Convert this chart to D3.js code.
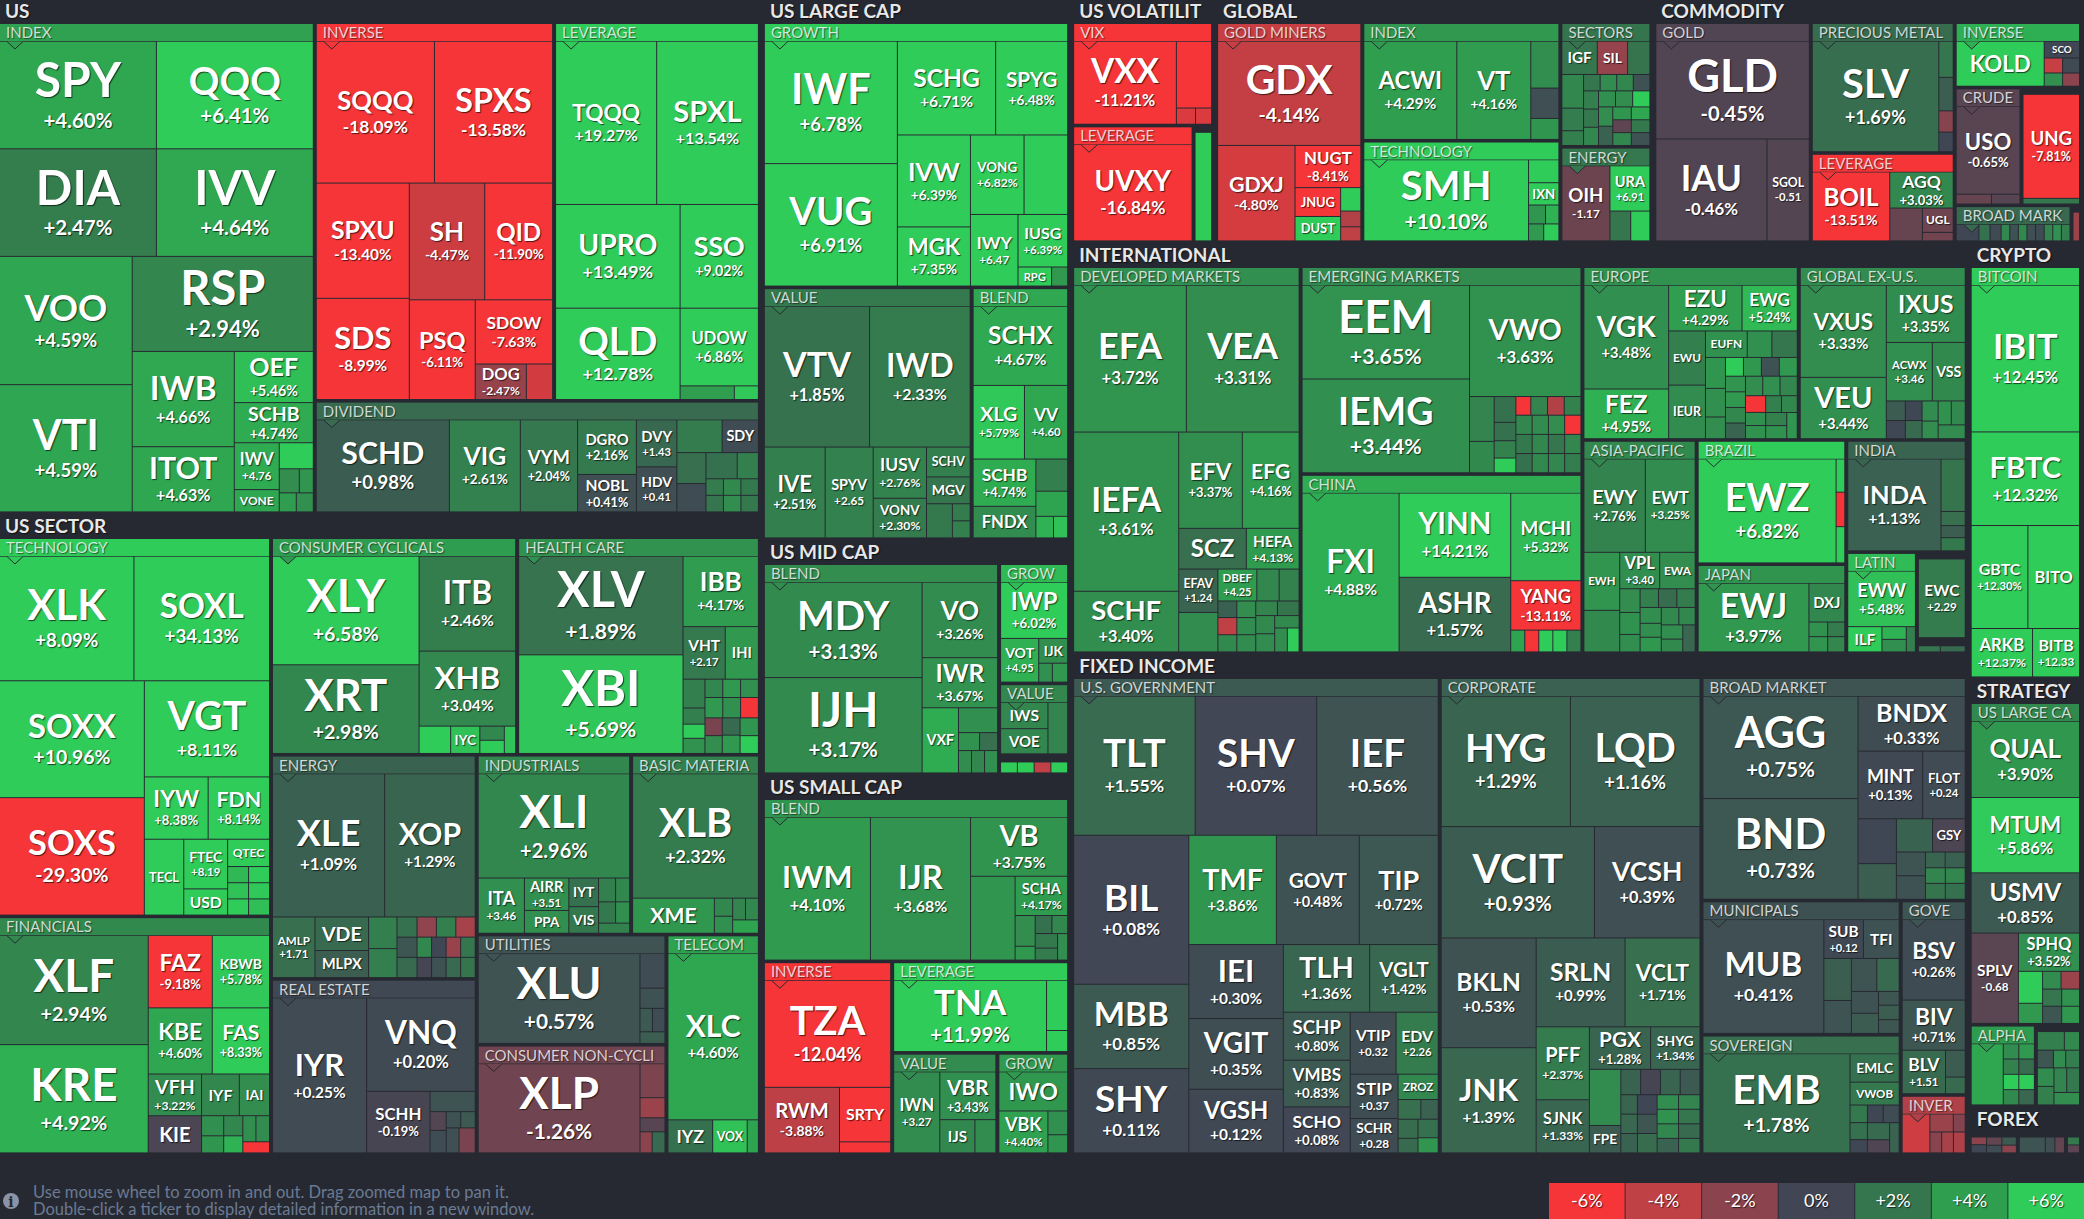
<!DOCTYPE html>
<html>
<head>
<meta charset="utf-8">
<title>ETF map</title>
<script src="https://cdn.jsdelivr.net/npm/d3@7"></script>
<style>
  html, body { margin: 0; padding: 0; background: #262931; }
  svg { display: block; font-family: Lato, sans-serif; }
  text { text-shadow: 1px 1px 1px rgba(0,0,0,.65); }
  .foot { text-shadow: none; }
</style>
</head>
<body>
<svg id="map" width="2084" height="1219"></svg>
<script>
// Cells: [ticker, size, change]. A string change is printed in the cell, a number only sets the colour.

// US ------------------------------------------------------------
const usIndex = [["SPY",16820,"+4.60%"],["QQQ",16820,"+6.41%"],["DIA",16820,"+2.47%"],["IVV",16820,"+4.64%"],["VOO",16960,"+4.59%"],["VTI",16830,"+4.59%"],["RSP",17150,"+2.94%"],["IWB",9690,"+4.66%"],["ITOT",6630,"+4.63%"],["OEF",4030,"+5.46%"],["SCHB",3160,"+4.74%"],["IWV",2100,"+4.76"],["VONE",1000,4.6],["",884,6.4],["",480,3.3],["",336,3.8],["",323,4.2],["",323,3.5]];
const usInverse = [["SQQQ",16640,"-18.09%"],["SPXS",16640,"-13.58%"],["SPXU",10640,"-13.40%"],["SDS",9340,"-8.99%"],["SH",8740,"-4.47%"],["QID",7860,"-11.90%"],["PSQ",6525,"-6.11%"],["SDOW",4930,"-7.63%"],["DOG",1800,"-2.47%"],["",925,-4.7]];
const usLeverage = [["TQQQ",16400,"+19.27%"],["SPXL",16500,"+13.54%"],["UPRO",12830,"+13.49%"],["QLD",11300,"+12.78%"],["SSO",8070,"+9.02%"],["UDOW",6045,"+6.86%"],["",734,4.3],["",326,5.8]];
const usDividend = [["SCHD",12060,"+0.98%"],["VIG",6425,"+2.61%"],["VYM",5190,"+2.04%"],["DGRO",3160,"+2.16%"],["NOBL",2165,"+0.41%"],["DVY",1875,"+1.43"],["HDV",1795,"+0.41"],["",1460,2.3],["SDY",1170,0.3],["",885,1.7],["",810,0.3],["",805,1.8],["",545,2.6],["",285,2.3],["",285,2.0],["",285,3.1],["",285,3.4],["",285,2.2],["",285,2.1]];

// US SECTOR -----------------------------------------------------
const secTech = [["XLK",16600,"+8.09%"],["SOXL",16740,"+34.13%"],["SOXX",16780,"+10.96%"],["SOXS",16860,"-29.30%"],["VGT",11930,"+8.11%"],["IYW",3940,"+8.38%"],["FDN",3790,"+8.14%"],["TECL",2965,16],["FTEC",2160,"+8.19"],["USD",1140,16],["QTEC",1134,7.5],["",336,5.2],["",336,6],["",336,5.5],["",336,6.2],["",336,5.8],["",336,5.4]];
const secFinancials = [["XLF",16060,"+2.94%"],["KRE",15920,"+4.92%"],["FAZ",4590,"-9.18%"],["KBWB",4100,"+5.78%"],["KBE",4185,"+4.60%"],["FAS",3745,"+8.33%"],["VFH",2200,"+3.22%"],["KIE",1960,-0.3],["IYF",1556,3],["IAI",1245,3.3],["",440,3.5],["",374,3.8],["",380,3],["",323,5],["",338,3.4],["",350,3.2],["",294,-9]];
const secCyclicals = [["XLY",15770,"+6.58%"],["XRT",12880,"+2.98%"],["ITB",9080,"+2.46%"],["XHB",7180,"+3.04%"],["",855,6.4],["IYC",790,5.5],["",343,3],["",320,6.2],["",307,5.6]];
const secHealth = [["XLV",16100,"+1.89%"],["XBI",16100,"+5.69%"],["IBB",5270,"+4.17%"],["VHT",2205,"+2.17"],["IHI",1730,4],["",627,2.5],["",352,2.6],["",308,6],["",330,3.6],["",324,3],["",324,4],["",324,3.5],["",360,4],["",360,3.5],["",360,-9],["",306,-1.5],["",306,3.3],["",306,1.5],["",324,4],["",324,3.8],["",324,6]];
const secEnergy = [["XLE",15830,"+1.09%"],["XOP",12780,"+1.29%"],["AMLP",2540,"+1.71"],["VDE",1775,1.5],["MLPX",1430,1],["",885,2.5],["",810,2.6],["",400,1.8],["",400,0.7],["",400,1.5],["",386,-2.2],["",386,2.6],["",386,-3],["",290,3],["",290,-0.1],["",290,0.1],["",290,0.5],["",290,-2.5],["",290,2],["",290,1.5],["",290,1.9]];
const secRealEstate = [["IYR",14480,"+0.25%"],["VNQ",10070,"+0.20%"],["SCHH",3875,"-0.19%"],["",910,0.6],["",300,-0.5],["",360,0.3],["",234,0.5],["",234,0.8],["",320,0.4],["",400,-1.5]];
const secIndustrials = [["XLI",15570,"+2.96%"],["ITA",2516,"+3.46"],["AIRR",1420,"+3.51"],["PPA",1000,3.5],["IYT",840,1.8],["VIS",780,2.2],["",400,2.5],["",329,3],["",357,2.2],["",294,3.5],["",310,2.7]];
const secMaterials = [["XLB",15375,"+2.32%"],["XME",2820,3.9],["",324,3],["",306,3.5],["",275,2.8],["",275,3],["",338,4.5]];
const secUtilities = [["XLU",14410,"+0.57%"],["",857,0.3],["",500,0.5],["",290,0.8],["",290,0.3],["",288,1]];
const secStaples = [["XLP",14050,"-1.26%"],["",825,-1.6],["",487,-2.6],["",340,-0.6],["",250,-2],["",262,1.5]];
const secTelecom = [["XLC",14770,"+4.60%"],["IYZ",1452,1.8],["VOX",1122,5.5],["",363,4.5]];

// US LARGE / MID / SMALL CAP ------------------------------------
const largeGrowth = [["IWF",16160,"+6.78%"],["VUG",16160,"+6.91%"],["SCHG",9150,"+6.71%"],["SPYG",6700,"+6.48%"],["IVW",6670,"+6.39%"],["MGK",4290,"+7.35%"],["VONG",4230,"+6.82%"],["",3440,6.6],["IWY",3380,"+6.47"],["IUSG",2590,"+6.39%"],["RPG",635,6.5],["",304,4]];
const largeValue = [["VTV",14640,"+1.85%"],["IWD",14000,"+2.33%"],["IVE",5460,"+2.51%"],["SPYV",4320,"+2.65"],["IUSV",2700,"+2.76%"],["VONV",2090,"+2.30%"],["SCHV",1290,2.6],["MGV",1160,2],["",874,2.2],["",300,2.3],["",300,2.5]];
const largeBlend = [["SCHX",7350,"+4.67%"],["XLG",3716,"+5.79%"],["VV",3130,"+4.60"],["SCHB",2917,"+4.74%"],["FNDX",1950,3.2],["",1005,2.6],["",785,4.5],["",374,5],["",300,5.5]];
const midBlend = [["MDY",14860,"+3.13%"],["IJH",14860,"+3.17%"],["VO",5630,"+3.26%"],["IWR",3735,"+3.67%"],["VXF",2340,4.8],["",960,3.5],["",374,3.6],["",320,1.7],["",288,3.2],["",288,3],["",288,3.5]];
const midGrow = [["IWP",3656,"+6.02%"],["VOT",1617,"+4.95"],["IJK",696,3.4],["",250,3.5],["",280,4]];
const midValue = [["IWS",1190,2.9],["VOE",1140,3],["",970,2.8]];
const midOther = [["",176,6.2],["",176,6.2],["",176,-4],["",176,6.2]];
const smallBlend = [["IWM",14930,"+4.10%"],["IJR",14100,"+3.68%"],["VB",5650,"+3.75%"],["",3680,3.8],["SCHA",2033,"+4.17%"],["",610,3.3],["",274,3.9],["",297,1.8],["",280,3],["",320,2.2],["",264,2.3],["",264,3.3]];
const smallInverse = [["TZA",13280,"-12.04%"],["RWM",4840,"-3.88%"],["SRTY",2743,-7],["",557,-8]];
const smallLeverage = [["TNA",10640,"+11.99%"],["",1035,8],["",435,7]];
const smallValue = [["IWN",3666,"+3.27"],["VBR",2626,"+3.43%"],["IJS",1145,3],["",683,3.2]];
const smallGrow = [["IWO",2627,3.9],["VBK",2010,"+4.40%"],["",458,3.5],["",350,3.8]];

// US VOLATILITY / GLOBAL / COMMODITY ----------------------------
const volVix = [["VXX",8364,"-11.21%"],["",2310,-9],["",304,-5],["",256,-5]];
const volLeverage = [["UVXY",11230,"-16.84%"]];
const volOther = [["",1660,7]];
const globalMiners = [["GDX",14725,"-4.14%"],["GDXJ",7290,"-4.80%"],["NUGT",2740,"-8.41%"],["JNUG",1300,-8],["DUST",1100,7],["",466,7],["",314,-3.5],["",280,-4]];
const globalIndex = [["ACWI",8990,"+4.29%"],["VT",7150,"+4.16%"],["",1296,3.4],["",840,0.4],["",580,3.8]];
const globalTech = [["SMH",13235,"+10.10%"],["",690,6.5],["IXN",669,8],["",318,3.8],["",250,5],["",255,4],["",255,6]];
const globalSectors = [["IGF",1155,2],["SIL",990,-2.4],["",726,1.9],["",716,3],["",480,2.4],["",314,2.6],["",267,2],["",267,3.2],["",267,3],["",267,0.5],["",267,2.6],["",267,2.1],["",267,3],["",267,3.5],["",270,3.3],["",270,6],["",270,3.3],["",270,1.2],["",234,3.8],["",234,4.6],["",234,-0.8],["",234,3],["",234,2.2],["",234,0.5]];
const globalEnergy = [["OIH",3530,"-1.17"],["URA",1766,"+6.91"],["",606,2],["",558,7]];
const comGold = [["GLD",14830,"-0.45%"],["IAU",11190,"-0.46%"],["SGOL",4260,"-0.51"]];
const comPrecious = [["SLV",13700,"+1.69%"],["",510,2],["",472,1],["",300,-1.9],["",276,0.1]];
const comLeverage = [["BOIL",5236,"-13.51%"],["AGQ",2243,"+3.03%"],["",1050,-1],["UGL",734,-1.2],["",257,-1.3]];
const comInverse = [["KOLD",3907,7],["SCO",585,0.1],["",272,-4.2],["",240,3.5],["",250,0.2],["",220,-2]];
const comCrude = [["USO",5504,"-0.65%"],["",340,-1],["",275,-0.6]];
const comGas = [["UNG",5580,"-7.81%"],["",306,2]];
const comBroad = [["",358,0.1],["",176,1.8],["",176,0.2],["",136,3],["",136,0.5],["",136,3],["",136,0.4],["",136,0.3],["",136,2.8],["",136,3.5],["",136,2.6]];
const comOther = [["",144,-2.6]];

// INTERNATIONAL -------------------------------------------------
const intlDeveloped = [["EFA",16450,"+3.72%"],["VEA",16450,"+3.31%"],["IEFA",16620,"+3.61%"],["SCHF",6330,"+3.40%"],["EFV",6086,"+3.37%"],["EFG",5434,"+4.16%"],["SCZ",2736,1.7],["HEFA",2135,"+4.13%"],["EFAV",1690,"+1.24"],["",1536,3.2],["DBEF",1236,"+4.25"],["",707,3],["",634,2.7],["",312,1.1],["",323,-4],["",323,3.1],["",312,3.3],["",323,3.2],["",323,3.2],["",315,2.8],["",315,1.9],["",342,3.1],["",342,3.2],["",300,3.1],["",300,3.3],["",280,6.5]];
const intlEmerging = [["EEM",15600,"+3.65%"],["IEMG",15600,"+3.44%"],["VWO",12320,"+3.63%"],["",1100,2.8],["",768,3.1],["",557,1.8],["",396,1.8],["",373,2.7],["",317,7],["",277,-9],["",310,2.8],["",310,-3.5],["",310,2.7],["",310,2.9],["",310,2.2],["",310,1.8],["",310,3.2],["",310,3.3],["",310,-9],["",310,3],["",310,3.1],["",310,2],["",310,2.9],["",310,3],["",310,2.4]];
const intlChina = [["FXI",15320,"+4.88%"],["YINN",9350,"+14.21%"],["ASHR",8280,"+1.57%"],["MCHI",6118,"+5.32%"],["YANG",3450,"-13.11%"],["",304,4.5],["",304,-9],["",304,6],["",304,6.5],["",304,2.5]];
const intlEurope = [["VGK",8615,"+3.48%"],["FEZ",4120,"+4.95%"],["EZU",3290,"+4.29%"],["EWG",2476,"+5.24%"],["EWU",1955,2.5],["IEUR",1933,3.2],["EUFN",1083,3.6],["",640,3.5],["",658,2],["",606,3.8],["",560,3.5],["",425,3.3],["",330,6.5],["",330,3.9],["",330,0.5],["",330,4],["",306,3.7],["",306,4],["",306,3],["",306,1.3],["",330,3.3],["",330,3.5],["",330,2.9],["",330,-9],["",260,3.5],["",260,3.6],["",260,2.5],["",260,3],["",270,2.7],["",270,3.6],["",270,3.8]];
const intlExUs = [["VXUS",7850,"+3.33%"],["VEU",5220,"+3.44%"],["IXUS",4470,"+3.35%"],["ACWX",2664,"+3.46"],["VSS",1906,3.1],["",369,0.9],["",342,0.1],["",324,0.1],["",300,1.5],["",320,3.2],["",280,3.3],["",312,3.6],["",330,3.1],["",370,3.2]];
const intlAsia = [["EWY",5627,"+2.76%"],["EWT",4570,"+3.25%"],["EWH",2040,3.7],["",1460,3.1],["VPL",1429,"+3.40"],["EWA",1270,3.3],["",473,3.3],["",440,3.6],["",349,3.4],["",337,2.5],["",337,1.6],["",337,2.3],["",330,3.4],["",290,3.4],["",305,3.9],["",300,3.1],["",280,3],["",300,3.4],["",270,3.1],["",330,1.4]];
const intlBrazil = [["EWZ",14150,"+6.82%"],["",284,6.5],["",295,-9],["",310,6.5]];
const intlJapan = [["EWJ",7450,"+3.97%"],["DXJ",1363,3],["",268,3.6],["",279,3.7],["",245,2.3],["",255,2.9]];
const intlIndia = [["INDA",8408,"+1.13%"],["",1248,1.9],["",336,1.7],["",288,1],["",312,2.2]];
const intlLatin = [["EWW",3668,"+5.48%"],["ILF",843,6],["",302,5],["",298,3.5],["",225,2.5]];
const intlCanada = [["EWC",3551,"+2.29"]];
const intlOther = [["",105,2],["",120,1.5]];

// FIXED INCOME --------------------------------------------------
const fixedGov = [["TLT",16840,"+1.55%"],["SHV",16840,"+0.07%"],["IEF",16840,"+0.56%"],["BIL",17105,"+0.08%"],["MBB",9680,"+0.85%"],["SHY",9680,"+0.11%"],["TMF",9530,"+3.86%"],["GOVT",9030,"+0.48%"],["TIP",8600,"+0.72%"],["IEI",6970,"+0.30%"],["VGIT",6660,"+0.35%"],["VGSH",6000,"+0.12%"],["TLH",5822,"+1.36%"],["VGLT",4624,"+1.42%"],["SCHP",3197,"+0.80%"],["VMBS",3110,"+0.83%"],["SCHO",3064,"+0.08%"],["VTIP",2833,"+0.32"],["EDV",2604,"+2.26"],["STIP",2113,"+0.37"],["SCHR",1640,"+0.28"],["ZROZ",1012,3],["",447,1.7],["",341,1.2],["",379,1.6],["",289,1.5],["",374,1.8],["",306,3.8]];
const fixedCorp = [["HYG",16760,"+1.29%"],["LQD",16810,"+1.16%"],["VCIT",16985,"+0.93%"],["VCSH",11690,"+0.39%"],["BKLN",10370,"+0.53%"],["JNK",9940,"+1.39%"],["SRLN",7860,"+0.99%"],["VCLT",6626,"+1.71%"],["PFF",3863,"+2.37%"],["SJNK",2814,"+1.33%"],["PGX",2590,"+1.28%"],["SHYG",2090,"+1.34%"],["",1758,3.2],["FPE",859,0.9],["",500,1.2],["",500,-0.1],["",500,1.3],["",500,0.8],["",320,1.3],["",320,1.4],["",320,1.2],["",380,0.1],["",380,0.7],["",380,1.6],["",310,3.4],["",310,2.8],["",310,3.6],["",310,2],["",310,3],["",310,1.2],["",310,1.5],["",310,2.2]];
const fixedBroad = [["AGG",15780,"+0.75%"],["BND",15516,"+0.73%"],["BNDX",5850,"+0.33%"],["MINT",4350,"+0.13%"],["FLOT",2857,"+0.24"],["",1710,0.1],["",1357,1],["",1198,1.2],["GSY",1079,-0.3],["",686,0.6],["",678,0.5],["",308,1.3],["",314,1.1],["",308,2.8],["",314,1.9],["",308,2.9],["",314,1.8]];
const fixedMuni = [["MUB",13594,"+0.41%"],["SUB",1520,"+0.12"],["TFI",1375,0.5],["",1143,1],["",896,0.6],["",827,0.6],["",729,1.5],["",586,0.5],["",540,0.9],["",282,0.7],["",295,1],["",282,0.7]];
const fixedSovereign = [["EMB",14340,"+1.78%"],["EMLC",1372,1.8],["VWOB",1107,2.2],["",300,2.2],["",290,1.8],["",227,0.1],["",275,0.1],["",277,0.3],["",372,1.5],["",288,-0.4],["",285,1.2]];
const fixedGove = [["BSV",4979,"+0.26%"],["BIV",3100,"+0.71%"],["BLV",1845,"+1.51"],["",518,0.9],["",322,1.5]];
const fixedInverse = [["",1037,-4.5],["",405,-2.6],["",206,-1.8],["",237,-1.9],["",237,-3.1],["",237,-3.3]];

// CRYPTO / STRATEGY / FOREX -------------------------------------
const cryptoBitcoin = [["IBIT",15700,"+12.45%"],["FBTC",10015,"+12.32%"],["GBTC",5768,"+12.30%"],["BITO",5253,12.3],["ARKB",2933,"+12.37%"],["BITB",2246,"+12.33"]];
const stratLarge = [["QUAL",8130,"+3.90%"],["MTUM",8025,"+5.86%"],["USMV",6420,"+0.85%"],["SPLV",4200,"-0.68"],["SPHQ",2300,"+3.52%"],["",760,7],["",480,4],["",322,3.2],["",323,-2.6],["",322,2],["",323,0.7],["",301,3.6],["",302,3.9]];
const stratAlpha = [["",1787,4.6],["",217,3.2],["",217,4],["",217,2.7],["",217,1.6],["",217,6],["",217,3.1],["",217,7],["",217,1.4]];
const stratOther = [["",481,2.5],["",270,3.1],["",273,0.7],["",208,3.2],["",234,2.4],["",294,3.2],["",294,2.6],["",301,2.8],["",301,2.2],["",305,3.3]];
const forexA = [["",112,-2],["",120,0.1],["",120,-0.9],["",112,0.3],["",112,0.8],["",107,-2]];
const forexB = [["",411,0.6],["",152,0.4],["",152,-0.9]];
const forexC = [["",91,2.2],["",91,-0.7]];

// Group and sector tables: the name as printed, its area in the picture, its cells.
const usGroups = [{name:"INDEX",size:155647,cells:usIndex},{name:"INVERSE",size:90650,cells:usInverse},{name:"LEVERAGE",size:77970,cells:usLeverage},{name:"DIVIDEND",size:50060,cells:usDividend}];
const sectorGroups = [{name:"TECHNOLOGY",size:103600,cells:secTech},{name:"FINANCIALS",size:64970,cells:secFinancials},{name:"CONSUMER CYCLICALS",size:53590,cells:secCyclicals},{name:"HEALTH CARE",size:52850,cells:secHealth},{name:"ENERGY",size:46130,cells:secEnergy},{name:"REAL ESTATE",size:36090,cells:secRealEstate},{name:"INDUSTRIALS",size:27780,cells:secIndustrials},{name:"BASIC MATERIA",size:23170,cells:secMaterials},{name:"UTILITIES",size:20920,cells:secUtilities},{name:"CONSUMER NON-CYCLI",size:20790,cells:secStaples},{name:"TELECOM",size:20540,cells:secTelecom}];
const largeGroups = [{name:"GROWTH",size:81090,cells:largeGrowth},{name:"VALUE",size:52500,cells:largeValue},{name:"BLEND",size:24520,cells:largeBlend}];
const midGroups = [{name:"BLEND",size:49630,cells:midBlend},{name:"GROW",size:8386,cells:midGrow},{name:"VALUE",size:5005,cells:midValue},{name:"",size:1330,cells:midOther}];
const smallGroups = [{name:"BLEND",size:49725,cells:smallBlend},{name:"INVERSE",size:24800,cells:smallInverse},{name:"LEVERAGE",size:16107,cells:smallLeverage},{name:"VALUE",size:10605,cells:smallValue},{name:"GROW",size:7240,cells:smallGrow}];
const volGroups = [{name:"VIX",size:14523,cells:volVix},{name:"LEVERAGE",size:14120,cells:volLeverage},{name:"",size:2276,cells:volOther}];
const globalGroups = [{name:"GOLD MINERS",size:32120,cells:globalMiners},{name:"INDEX",size:23450,cells:globalIndex},{name:"TECHNOLOGY",size:20070,cells:globalTech},{name:"SECTORS",size:11320,cells:globalSectors},{name:"ENERGY",size:8670,cells:globalEnergy}];
const commodityGroups = [{name:"GOLD",size:34360,cells:comGold},{name:"PRECIOUS METAL",size:18790,cells:comPrecious},{name:"LEVERAGE",size:12820,cells:comLeverage},{name:"INVERSE",size:8235,cells:comInverse},{name:"CRUDE",size:7856,cells:comCrude},{name:"",size:7000,cells:comGas},{name:"BROAD MARK",size:4300,cells:comBroad},{name:"",size:350,cells:comOther}];
const intlGroups = [{name:"DEVELOPED MARKETS",size:88400,cells:intlDeveloped},{name:"EMERGING MARKETS",size:58570,cells:intlEmerging},{name:"CHINA",size:50480,cells:intlChina},{name:"EUROPE",size:37590,cells:intlEurope},{name:"GLOBAL EX-U.S.",size:29180,cells:intlExUs},{name:"ASIA-PACIFIC",size:24360,cells:intlAsia},{name:"BRAZIL",size:18580,cells:intlBrazil},{name:"JAPAN",size:13310,cells:intlJapan},{name:"INDIA",size:13510,cells:intlIndia},{name:"LATIN",size:7140,cells:intlLatin},{name:"",size:4324,cells:intlCanada},{name:"",size:710,cells:intlOther}];
const fixedGroups = [{name:"U.S. GOVERNMENT",size:175500,cells:fixedGov},{name:"CORPORATE",size:124970,cells:fixedCorp},{name:"BROAD MARKET",size:59300,cells:fixedBroad},{name:"MUNICIPALS",size:26760,cells:fixedMuni},{name:"SOVEREIGN",size:23825,cells:fixedSovereign},{name:"GOVE",size:12850,cells:fixedGove},{name:"INVER",size:3914,cells:fixedInverse}];
const cryptoGroups = [{name:"BITCOIN",size:49835,cells:cryptoBitcoin}];
const strategyGroups = [{name:"US LARGE CA",size:35742,cells:stratLarge},{name:"ALPHA",size:5366,cells:stratAlpha},{name:"",size:3660,cells:stratOther}];
const forexGroups = [{name:"",size:1152,cells:forexA},{name:"",size:1152,cells:forexB},{name:"",size:360,cells:forexC}];

const sectors = [
  {name:"US",size:393975,groups:usGroups},
  {name:"US SECTOR",size:490365,groups:sectorGroups},
  {name:"US LARGE CAP",size:167330,groups:largeGroups},
  {name:"US MID CAP",size:72690,groups:midGroups},
  {name:"US SMALL CAP",size:117530,groups:smallGroups},
  {name:"US VOLATILIT",size:35136,groups:volGroups},
  {name:"GLOBAL",size:106945,groups:globalGroups},
  {name:"COMMODITY",size:104850,groups:commodityGroups},
  {name:"INTERNATIONAL",size:368950,groups:intlGroups},
  {name:"FIXED INCOME",size:449750,groups:fixedGroups},
  {name:"CRYPTO",size:49835,groups:cryptoGroups},
  {name:"STRATEGY",size:48920,groups:strategyGroups},
  {name:"FOREX",size:5486,groups:forexGroups}
];

// Legend
const legendValues = [-6,-4,-2,0,2,4,6];
const legendLabels = ["-6%","-4%","-2%","0%","+2%","+4%","+6%"];
const legendColors = ["#f63538","#bf4045","#8b444e","#414554","#35764e","#2f9e4f","#30cc5a"];
const footLines = ["Use mouse wheel to zoom in and out. Drag zoomed map to pan it.","Double-click a ticker to display detailed information in a new window."];

const BG = "#262931";
// cells read a little darker than the legend stops on the green side
const color = d3.scaleLinear().domain([-6,-4,-2,0,2,4.3,5.9]).range(legendColors).clamp(true);
const changeOf = c => typeof c[2] === "string" ? parseFloat(c[2]) : c[2];

const svg = d3.select("#map");

// Hierarchy, sizes of sectors and groups come from their own area, not the sum of the leaves
const root = d3.hierarchy({groups: sectors}, d => d.groups || d.cells);
root.sum(d => Array.isArray(d) ? d[1] : 0);

const squarify = d3.treemapSquarify.ratio(1);
function tile(node, x0, y0, x1, y1) {
  if (node.height > 1) node.children.forEach(c => { c.value = c.data.size; });
  node.value = d3.sum(node.children, c => c.value);
  squarify(node, x0, y0, x1, y1);
}

d3.treemap()
  .size([2086, 1156])
  .tile(tile)
  .paddingTop(n => n.depth === 1 ? 24 : n.depth === 2 ? (n.data.name ? 17.7 : 5.5) : 0)
  .paddingRight(n => n.depth === 1 || n.depth === 2 ? 3 : 0)
  .paddingBottom(n => n.depth === 2 ? 2.6 : 0)(root);

const groups = root.descendants().filter(n => n.depth === 2);
const leaves = root.leaves();

// Mean change of a group gives the header colour
const groupColor = g => color(d3.sum(g.children, c => c.data[1] * changeOf(c.data)) / d3.sum(g.children, c => c.data[1]));

// Cells
const cell = svg.append("g").selectAll("g").data(leaves).join("g")
  .attr("transform", d => `translate(${d.x0},${d.y0})`);

cell.append("rect")
  .attr("width", d => Math.max(0, d.x1 - d.x0 - 1))
  .attr("height", d => Math.max(0, d.y1 - d.y0 - 1))
  .attr("fill", d => color(changeOf(d.data)));

// Text fitting
const ctx = document.createElement("canvas").getContext("2d");
ctx.font = "700 100px Lato";
const em = s => ctx.measureText(s).width / 100;
const clamp = (v, a, b) => Math.max(a, Math.min(b, v));

cell.filter(d => d.data[0]).each(function (d) {
  const w = d.x1 - d.x0 - 1, h = d.y1 - d.y0 - 1;
  const name = d.data[0], perf = typeof d.data[2] === "string" ? d.data[2] : null;
  let f1 = Math.min(w * clamp(0.84 - 0.0016 * w, 0.48, 0.84) / em(name), h * (perf ? 0.5 : 0.62), 6 + 0.27 * w, 52);
  let f2 = perf ? Math.min(w * 0.8 / em(perf), 8 + 0.08 * w, 22) : 0;
  // ticker and change sit on clear lines: descent of the first plus ascent of the second
  let gap = perf ? 0.213 * f1 + 0.267 * f2 : 0;
  let total = 0.72 * f1 + gap + 0.72 * f2;
  if (total > h * 0.92) {
    const k = h * 0.92 / total;
    f1 *= k; f2 *= k; gap *= k; total *= k;
  }
  const base = h / 2 - total / 2 + 0.72 * f1;
  const label = d3.select(this).append("text")
    .attr("text-anchor", "middle").attr("fill", "#fff")
    .style("font-weight", 700);
  label.append("tspan")
    .attr("x", w / 2).attr("y", base)
    .style("font-size", f1 + "px")
    .text(name);
  if (perf) {
    label.append("tspan")
      .attr("x", w / 2).attr("y", base + gap + 0.72 * f2)
      .style("font-size", f2 + "px")
      .text(perf);
  }
});

// Group headers with the small notch
const named = groups.filter(g => g.data.name);
const header = svg.append("g").selectAll("g").data(named).join("g")
  .attr("transform", d => `translate(${d.x0},${d.y0})`);

header.append("rect")
  .attr("width", d => d.x1 - d.x0 - 4)
  .attr("height", 17)
  .attr("fill", groupColor);

header.append("path")
  .attr("d", "M7,17.5L15,25L23,17.5")
  .attr("fill", groupColor)
  .attr("stroke", BG)
  .attr("stroke-width", 1);

header.append("text")
  .attr("x", 6).attr("y", 14)
  .attr("fill", "#fff").attr("fill-opacity", 0.78)
  .style("font-size", "15px")
  .text(d => d.data.name);

// Sector titles
svg.append("g").selectAll("text").data(root.children).join("text")
  .attr("x", d => d.x0 + 5)
  .attr("y", d => d.y0 + 18)
  .attr("fill", "#e8e8e8")
  .style("font-size", "19px")
  .style("font-weight", 700)
  .text(d => d.data.name);

// Legend
const legendX = d3.scaleBand().domain(legendLabels).range([1549, 2084]).paddingInner(0.012);
const legendFill = d3.scaleOrdinal().domain(legendLabels).range(legendColors);
const legend = svg.append("g").selectAll("g").data(legendLabels).join("g")
  .attr("transform", d => `translate(${legendX(d)},1183)`);
legend.append("rect")
  .attr("width", legendX.bandwidth()).attr("height", 36)
  .attr("fill", d => legendFill(d));
legend.append("text")
  .attr("x", legendX.bandwidth() / 2).attr("y", 24)
  .attr("text-anchor", "middle").attr("fill", "#fff")
  .style("font-size", "18px")
  .text(d => d);

// Footer hint
const foot = svg.append("g").attr("class", "foot");
foot.append("circle").attr("cx", 11).attr("cy", 1201).attr("r", 8).attr("fill", "#8b93a7");
foot.append("text").attr("class", "foot").attr("x", 11).attr("y", 1206.5)
  .attr("text-anchor", "middle").attr("fill", BG)
  .style("font-size", "14px").style("font-weight", 700).style("font-family", "'DejaVu Serif', serif")
  .text("i");
foot.selectAll("text.line").data(footLines).join("text")
  .attr("class", "line foot")
  .attr("x", 33).attr("y", (d, i) => 1197.5 + i * 17.8)
  .attr("fill", "#6b7a94")
  .style("font-size", "16.5px")
  .text(d => d);
</script>
</body>
</html>
